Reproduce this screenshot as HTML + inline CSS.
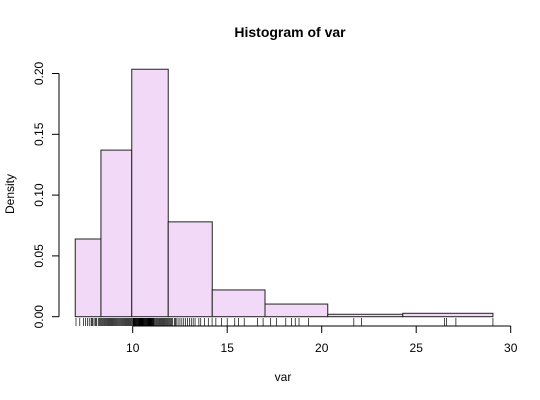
<!DOCTYPE html>
<html><head><meta charset="utf-8"><style>
body{margin:0;background:#fff}
svg{display:block;font-family:"Liberation Sans",sans-serif}
</style></head><body>
<svg id="c" width="540" height="400">
<text x="290" y="37" text-anchor="middle" font-size="14" font-weight="bold">Histogram of var</text>
<text x="283" y="381" text-anchor="middle" font-size="12">var</text>
<text transform="translate(14,194) rotate(-90)" text-anchor="middle" font-size="12">Density</text>
<g id="bars"></g><g id="rug"></g><g id="xaxis"></g><g id="yaxis"></g>
</svg>
<script>
const breaks=[6.96,8.32,9.95,11.88,14.21,17.0,20.32,24.29,29.06];
const density=[0.0639,0.137,0.2035,0.078,0.022,0.0104,0.002,0.0028];
const xTicks=[10,15,20,25,30];
const yTicks=[0,0.05,0.10,0.15,0.20];
const yTickLabels=["0.00","0.05","0.10","0.15","0.20"];
const rugValues=[7.0,7.2,7.4,7.5,7.6,7.7,7.8,7.85,7.9,8.0,8.05,8.1,8.2,8.25,8.3,8.35,8.4,8.45,8.5,8.55,8.6,8.65,8.7,8.75,8.8,8.85,8.9,8.95,9.0,9.05,9.1,9.15,9.2,9.25,9.3,9.35,9.4,9.45,9.5,9.55,9.6,9.65,9.7,9.75,9.8,9.85,9.9,9.95,10.0,10.03,10.05,10.08,10.1,10.13,10.15,10.18,10.2,10.23,10.25,10.28,10.3,10.33,10.35,10.38,10.4,10.43,10.45,10.48,10.5,10.53,10.55,10.58,10.6,10.63,10.65,10.68,10.7,10.73,10.75,10.78,10.8,10.83,10.85,10.88,10.9,10.93,10.95,10.98,11.0,11.03,11.05,11.08,11.1,11.13,11.15,11.2,11.25,11.3,11.35,11.4,11.45,11.5,11.55,11.6,11.65,11.7,11.75,11.8,11.85,11.9,11.95,12.0,12.05,12.1,12.2,12.25,12.3,12.4,12.5,12.6,12.7,12.8,12.9,13.0,13.1,13.2,13.3,13.5,13.6,13.8,14.0,14.2,14.4,14.7,15.0,15.4,15.6,15.9,16.6,16.9,17.3,17.6,18.1,18.4,18.6,18.8,19.3,21.7,22.1,26.5,26.6,27.1,29.06];
const NS="http://www.w3.org/2000/svg";
const X=v=>132.7+(v-10)*18.9, Y=d=>316.7-d*1216;
function mk(p,t,a){const e=document.createElementNS(NS,t);for(const k in a)e.setAttribute(k,a[k]);document.getElementById(p).appendChild(e);return e;}
density.forEach((d,i)=>{const e=mk('bars','rect',{x:X(breaks[i]),y:Y(d),width:X(breaks[i+1])-X(breaks[i]),height:Y(0)-Y(d),fill:'#f1d9f7',stroke:'#222','stroke-width':1});

});
rugValues.forEach(v=>{const e=mk('rug','line',{x1:X(v),x2:X(v),y1:318,y2:326,stroke:'#000','stroke-width':0.7});

});
let l=mk('xaxis','line',{x1:X(10),x2:X(30),y1:326,y2:326,stroke:'#000'});


xTicks.forEach(v=>{mk('xaxis','line',{x1:X(v),x2:X(v),y1:326,y2:333,stroke:'#000'});
const t=mk('xaxis','text',{x:X(v),y:352,'text-anchor':'middle','font-size':12});t.textContent=v;

});
l=mk('yaxis','line',{x1:59,x2:59,y1:Y(0.2),y2:Y(0),stroke:'#000'});


yTicks.forEach((v,i)=>{mk('yaxis','line',{x1:52,x2:59,y1:Y(v),y2:Y(v),stroke:'#000'});
const t=mk('yaxis','text',{transform:`translate(43,${Y(v)}) rotate(-90)`,'text-anchor':'middle','font-size':12});t.textContent=yTickLabels[i];

});
</script>
</body></html>
